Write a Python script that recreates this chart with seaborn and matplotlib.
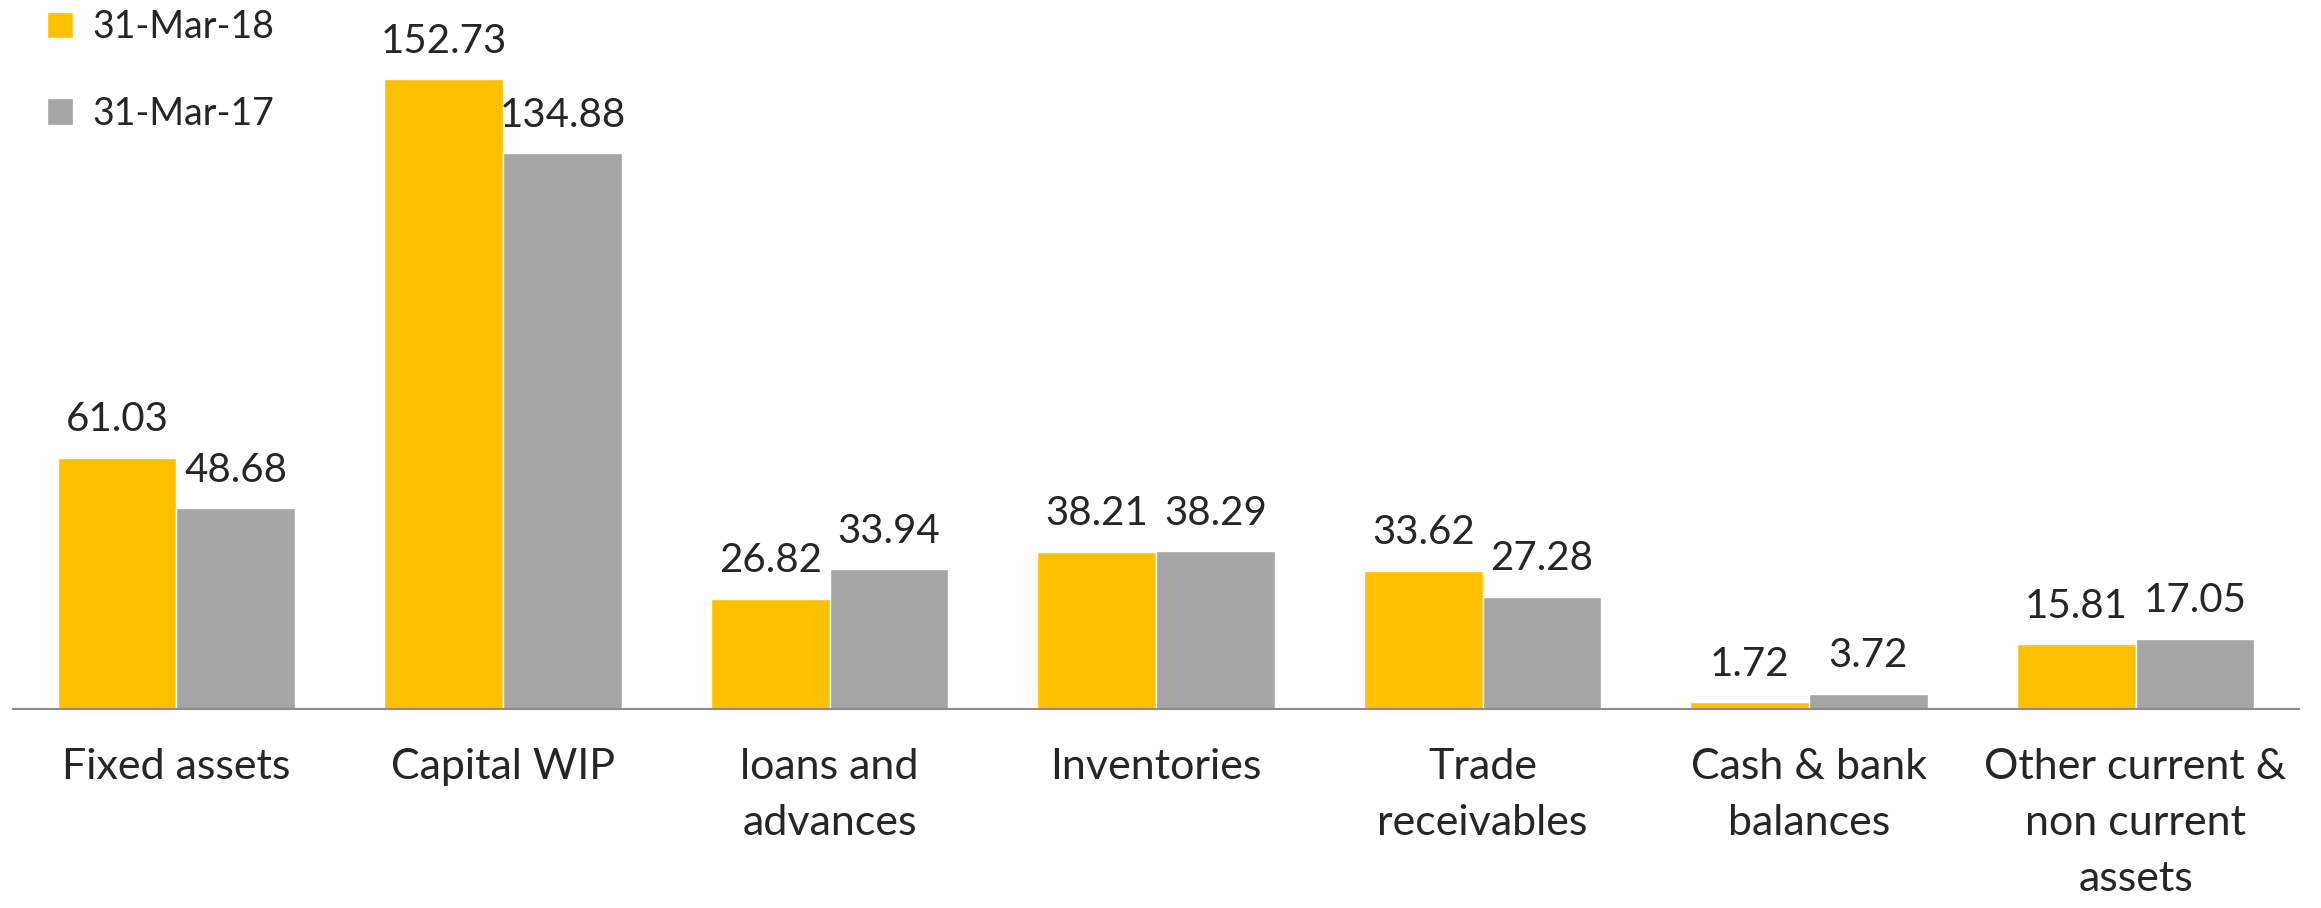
import pandas as pd
import matplotlib.pyplot as plt
import seaborn as sns

categories = ["Fixed assets", "Capital WIP", "loans and\nadvances", "Inventories",
              "Trade\nreceivables", "Cash & bank\nbalances", "Other current &\nnon current\nassets"]
mar18 = [61.03, 152.73, 26.82, 38.21, 33.62, 1.72, 15.81]
mar17 = [48.68, 134.88, 33.94, 38.29, 27.28, 3.72, 17.05]
periods = ["31-Mar-18", "31-Mar-17"]
colors = ["#FFC000", "#A5A5A5"]

df = pd.DataFrame({
    "category": categories * 2,
    "value": mar18 + mar17,
    "period": [periods[0]] * len(categories) + [periods[1]] * len(categories),
})

sns.set_style("white")
plt.rcParams["font.family"] = ["Lato", "DejaVu Sans"]

fig = plt.figure(figsize=(23.21, 9.08), dpi=100)
ax = fig.add_axes([0.0057, 0.219, 0.9848, 0.781])

sns.barplot(data=df, x="category", y="value", hue="period", palette=colors,
            saturation=1, width=0.727, ax=ax, legend=True)

for cont in ax.containers:
    ax.bar_label(cont, fmt="%.2f", fontsize=29, padding=14)

ax.set_xlim(-0.5, 6.5)
ax.set_ylim(0, 172)
ax.set_xlabel("")
ax.set_ylabel("")
ax.set_yticks([])
ax.tick_params(axis="x", length=0, labelsize=31, pad=28)
for lbl in ax.get_xticklabels():
    lbl.set_linespacing(1.58)
for s in ["top", "right", "left"]:
    ax.spines[s].set_visible(False)
ax.spines["bottom"].set_color("#8C8C8C")
ax.spines["bottom"].set_linewidth(1.5)

ax.legend(loc="upper left", bbox_to_anchor=(0.0, 1.035), frameon=False,
          fontsize=27, handlelength=0.7, handleheight=0.7, labelspacing=1.35,
          handletextpad=0.5)

fig.savefig("out.png", dpi=100)
